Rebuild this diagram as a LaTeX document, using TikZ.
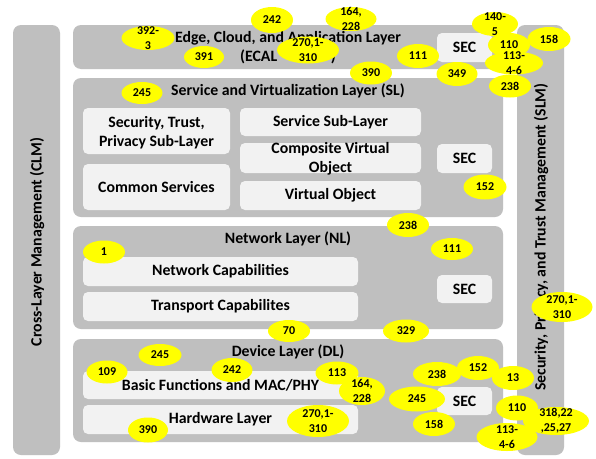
\documentclass[tikz,border=0pt]{standalone}
\usepackage{fontspec}
\setmainfont{Carlito}
\usetikzlibrary{shapes.geometric}

\definecolor{laygray}{HTML}{BFBFBF}
\definecolor{subgray}{HTML}{F2F2F2}
\definecolor{tagyellow}{HTML}{FFFF00}

\newcommand\yel[6]{%
  \node[tagshape, minimum width=#4pt, minimum height=#5pt] (#1) at (#2,#3) {};
  \node[tagtext] (#1t) at (#1) {#6};}

\begin{document}
\begin{tikzpicture}[x=1pt, y=-1pt,
  layer/.style={fill=laygray, rounded corners=8pt, inner sep=0pt, draw=none},
  subbox/.style={fill=subgray, rounded corners=5pt, inner sep=0pt, draw=none},
  lbl/.style={font=\fontsize{15.8}{19}\selectfont\bfseries, align=center, inner sep=0pt, text=black},
  tagshape/.style={ellipse, fill=tagyellow, inner sep=0pt, draw=none},
  tagtext/.style={font=\fontsize{12}{15}\selectfont\bfseries, align=center, inner sep=0pt, text=black}]

\useasboundingbox[fill=white] (0,0) rectangle (596,458);

% side bars
\node[layer, minimum width=47pt, minimum height=430pt] (clm) at (36.5,240) {};
\node[lbl, rotate=90] (clmt) at (37,242) {Cross-Layer Management (CLM)};
\node[layer, minimum width=47pt, minimum height=430pt] (slm) at (540.5,240) {};
\node[lbl, rotate=90] (slmt) at (541,237) {Security, Privacy, and Trust Management (SLM)};

% layers
\node[layer, minimum width=430pt, minimum height=44pt] (ecal) at (288,47) {};
\node[layer, minimum width=430pt, minimum height=139pt] (sl) at (288,147.5) {};
\node[layer, minimum width=430pt, minimum height=103pt] (nl) at (288,277.5) {};
\node[layer, minimum width=430pt, minimum height=103pt] (dl) at (288,390.5) {};

% ECAL
\node[lbl] (ecalt) at (288,47.5) {Edge, Cloud, and Application Layer\\(ECAL\hspace{3.4em})};
\node[subbox, minimum width=55pt, minimum height=29pt] (sececal) at (464.5,47.5) {};
\node[lbl] (sececalt) at (sececal) {SEC};

% SL
\node[lbl] (slt) at (288,91) {Service and Virtualization Layer (SL)};
\node[subbox, minimum width=147pt, minimum height=46pt] (stp) at (156.5,131) {};
\node[lbl] (stpt) at (156.5,132.5) {Security, Trust,\\Privacy Sub-Layer};
\node[subbox, minimum width=147pt, minimum height=46pt] (cs) at (156.5,187) {};
\node[lbl] (cst) at (cs) {Common Services};
\node[subbox, minimum width=181pt, minimum height=28pt] (ssl) at (330.5,122) {};
\node[lbl] (sslt) at (ssl) {Service Sub-Layer};
\node[subbox, minimum width=181pt, minimum height=30pt] (cvo) at (330.5,158) {};
\node[lbl] (cvot) at (330.5,158.5) {Composite Virtual\\Object};
\node[subbox, minimum width=181pt, minimum height=29pt] (vo) at (330.5,195.5) {};
\node[lbl] (vot) at (vo) {Virtual Object};
\node[subbox, minimum width=55pt, minimum height=29pt] (secsl) at (464.5,158.5) {};
\node[lbl] (secslt) at (secsl) {SEC};

% NL
\node[lbl] (nlt) at (288,239) {Network Layer (NL)};
\node[subbox, minimum width=275pt, minimum height=29pt] (nc) at (220.5,271.5) {};
\node[lbl] (nct) at (nc) {Network Capabilities};
\node[subbox, minimum width=275pt, minimum height=29pt] (tc) at (220.5,306.5) {};
\node[lbl] (tct) at (tc) {Transport Capabilites};
\node[subbox, minimum width=55pt, minimum height=28pt] (secnl) at (464.5,289) {};
\node[lbl] (secnlt) at (secnl) {SEC};

% DL
\node[lbl] (dlt) at (288,352) {Device Layer (DL)};
\node[subbox, minimum width=275pt, minimum height=28pt] (bf) at (220.5,385) {};
\node[lbl] (bft) at (bf) {Basic Functions and MAC/PHY};
\node[subbox, minimum width=275pt, minimum height=29pt] (hw) at (220.5,419.5) {};
\node[lbl] (hwt) at (hw) {Hardware Layer};
\node[subbox, minimum width=55pt, minimum height=28pt] (secdl) at (464.5,401) {};
\node[lbl] (secdlt) at (secdl) {SEC};

% reference tags
\yel{e392}{148}{38}{53}{24}{392-\\3}
\yel{e391}{204}{57}{40}{22}{391}
\yel{e242a}{272}{20}{42}{26}{242}
\yel{e164a}{351}{19}{51}{24}{164,\\228}
\yel{e270a}{308}{50}{62}{27}{270,1-\\310}
\yel{e111a}{418}{56}{42}{24}{111}
\yel{e390a}{371}{73}{42}{23}{390}
\yel{e349}{457}{74}{41}{24}{349}
\yel{e140}{495}{24}{46}{24}{140-\\5}
\yel{e110a}{509}{45}{42}{24}{110}
\yel{e158a}{549}{39}{43}{24}{158}
\yel{e113a}{514}{63}{58}{23}{113-\\4-6}
\yel{e238a}{510}{86}{42}{23}{238}
\yel{e245a}{142}{93}{41}{22}{245}
\yel{e152a}{485}{187}{43}{25}{152}
\yel{e238b}{408}{225}{42}{24}{238}
\yel{e111b}{452}{249}{42}{22}{111}
\yel{e1}{104}{252}{42}{23}{1}
\yel{e270b}{562}{307}{61}{30}{270,1-\\310}
\yel{e70}{289}{331}{42}{22}{70}
\yel{e329}{406}{331}{46}{23}{329}
\yel{e245b}{160}{355}{43}{22}{245}
\yel{e109}{107}{372}{41}{23}{109}
\yel{e242b}{232}{370}{41}{24}{242}
\yel{e390b}{148}{430}{40}{25}{390}
\yel{e113b}{337}{373}{43}{23}{113}
\yel{e164b}{362}{391}{46}{28}{164,\\228}
\yel{e270c}{318}{421}{62}{32}{270,1-\\310}
\yel{e238c}{437}{374}{48}{24}{238}
\yel{e152b}{478}{368}{42}{24}{152}
\yel{e13}{513}{378}{42}{24}{13}
\yel{e245c}{417}{399}{56}{25}{245}
\yel{e158b}{434}{424}{42}{24}{158}
\yel{e318}{556}{421}{66}{28}{318,22\\,25,27}
\yel{e110b}{517}{408}{42}{25}{110}
\yel{e113c}{507}{437}{61}{28}{113-\\4-6}

\end{tikzpicture}
\end{document}
